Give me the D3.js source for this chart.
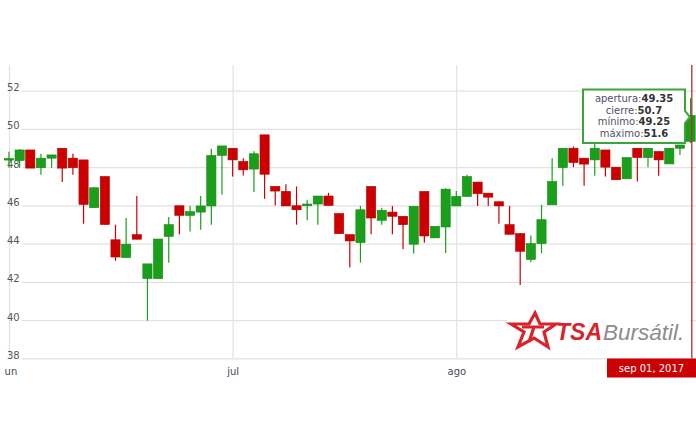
<!DOCTYPE html>
<html><head><meta charset="utf-8">
<script src="https://cdn.jsdelivr.net/npm/d3@7/dist/d3.min.js"></script>
<style>
html,body{margin:0;padding:0;background:#fff;}
svg{display:block;font-family:"DejaVu Sans",Verdana,sans-serif;}
</style></head>
<body><svg id="c" width="696" height="447"></svg>
<script>
// ---- data (one candle per trading day, index 0 = first day of June 2017) ----
const openV  = [48.38,48.35,48.9,47.97,48.47,48.99,48.47,48.38,45.88,47.51,44.2,43.27,44.47,42.17,42.17,44.38,45.98,45.48,45.65,45.97,48.61,48.99,48.3,47.9,49.69,46.99,46.73,45.98,45.98,46.07,46.49,45.57,44.47,44.05,46.99,45.22,45.65,45.43,43.97,46.73,44.3,44.87,45.97,46.47,47.22,46.64,46.19,44.99,44.52,43.17,44.0,46.03,47.98,48.99,48.47,48.38,48.9,48.0,47.39,48.99,48.5,48.82,48.17,48.99,49.35];
const closeV = [48.45,48.9,47.95,48.47,48.64,47.95,47.97,46.05,46.92,45.0,43.3,43.97,44.23,42.94,44.24,44.99,45.48,45.67,45.97,48.61,49.11,48.38,47.86,48.7,47.63,46.75,45.97,45.77,46.07,46.49,46.0,44.52,44.14,45.77,45.34,45.74,45.43,44.99,45.95,44.4,44.9,46.85,46.47,47.51,46.61,46.43,45.97,44.49,43.6,44.0,45.25,47.25,48.99,48.24,48.16,48.99,48.0,47.34,48.5,48.5,48.99,48.38,48.99,49.16,50.7];
const highV  = [48.8,48.95,48.9,48.7,48.64,48.99,48.7,48.38,46.95,47.51,44.99,45.34,46.49,42.94,44.24,45.39,45.98,45.97,46.49,48.96,49.11,48.99,48.47,48.83,49.69,46.99,47.1,46.99,46.3,46.49,46.66,45.57,44.47,45.97,46.99,45.88,45.97,45.43,45.95,46.73,44.9,46.9,46.75,47.6,47.22,46.64,46.19,45.97,44.56,44.43,46.03,48.47,48.99,49.08,48.47,49.34,48.9,48.0,48.5,48.99,48.99,48.82,48.99,49.16,51.6];
const lowV   = [47.97,47.97,47.95,47.6,47.97,47.23,47.6,45.04,45.88,45.0,43.1,43.27,44.23,39.97,42.17,43.0,44.49,44.64,44.73,44.99,46.56,47.51,47.57,46.7,46.35,46.0,45.97,44.99,45.22,44.99,46.0,44.52,42.75,43.0,44.49,44.99,44.49,43.7,43.48,44.05,44.3,43.51,45.97,46.47,45.97,45.97,45.04,44.49,41.83,43.03,43.5,46.03,47.03,48.0,47.03,47.55,47.51,47.34,47.39,47.25,48.0,47.55,48.17,48.64,49.25];
const yTicks = [38,40,42,44,46,48,50,52];
const monthLabels = ["jun","jul","ago"];
const monthIndex  = [0,21,42];
const selIndex = 64;
const selDate = "sep 01, 2017";
const tipLabels = ["apertura:","cierre:","mínimo:","máximo:"];
const tipValues = ["49.35","50.7","49.25","51.6"];

const svg = d3.select("#c");
const RED = "#cc0000", GREEN = "#1a9f1a";
const plotTop = 65, plotBottom = 358.3;

const x = d3.scaleLinear().domain([0, openV.length - 1]).range([9, 690.6]);
const y = d3.scaleLinear().domain([38, 52]).range([plotBottom, 90.7]);

// horizontal gridlines
const gy = svg.append("g").attr("transform","translate(22,0)")
  .call(d3.axisLeft(y).tickValues(yTicks).tickSize(-(696-22)).tickFormat(""));
gy.select(".domain").remove();
gy.selectAll("line").attr("stroke","#e2e2e2").attr("stroke-width",1.2);

// vertical month gridlines
const gx = svg.append("g").attr("transform",`translate(0,${plotBottom})`)
  .call(d3.axisBottom(x).tickValues(monthIndex).tickSize(-(plotBottom-plotTop)).tickFormat(""));
gx.select(".domain").remove();
gx.selectAll("line").attr("stroke","#e2e2e2").attr("stroke-width",1.2);

// x labels (clipped at left like the reference)
svg.append("clipPath").attr("id","xclip").append("rect")
  .attr("x",4.5).attr("y",0).attr("width",700).attr("height",447);
const xl = svg.append("g").attr("clip-path","url(#xclip)")
  .append("g").attr("transform",`translate(0,${plotBottom})`)
  .call(d3.axisBottom(x).tickValues(monthIndex).tickSize(0).tickPadding(10)
        .tickFormat(d=>monthLabels[monthIndex.indexOf(d)]));
xl.select(".domain").remove();
xl.selectAll("text").attr("font-size",10).attr("fill","#4a4a5a")
  .attr("font-family","DejaVu Sans, Verdana, sans-serif");

// y labels
const yl = svg.append("g").attr("transform","translate(7,0)")
  .call(d3.axisRight(y).tickValues(yTicks).tickSize(0).tickPadding(0));
yl.select(".domain").remove();
yl.selectAll("text").attr("font-size",10).attr("fill","#555").attr("dy","0")
  .attr("text-anchor","start").attr("font-family","DejaVu Sans, Verdana, sans-serif");

// logo background + logo
const lg = svg.append("g");
lg.append("rect").attr("x",507).attr("y",300).attr("width",183).attr("height",53).attr("fill","#fff");
const ic = lg.append("g").attr("transform","translate(510,311)")
  .attr("fill","none").attr("stroke","#d9232a").attr("stroke-width",3.2).attr("stroke-linejoin","miter");
ic.append("path").attr("d","M25,2 L30,13 L46,13 L34,21 L38,36 L24,27 L8,36 L14,21 L1,13 L19,13 Z");
ic.append("path").attr("d","M12,16 L34,16 M24,16 L19,31");
lg.append("text").attr("x",556).attr("y",340).attr("font-family","Liberation Sans, Arial, sans-serif")
  .attr("font-size",23).attr("font-weight","bold").attr("font-style","italic")
  .attr("fill","#d9232a").text("TSA");
lg.append("text").attr("x",603).attr("y",340).attr("font-family","Liberation Sans, Arial, sans-serif")
  .attr("font-size",22.5).attr("font-style","italic")
  .attr("fill","#8c8c8c").text("Bursátil.");

// candles
const idx = d3.range(openV.length);
const cg = svg.append("g");
cg.selectAll("line.w").data(idx).join("line").attr("class","w")
  .attr("x1",i=>x(i)).attr("x2",i=>x(i))
  .attr("y1",i=>y(highV[i])).attr("y2",i=>y(lowV[i]))
  .attr("stroke",i=>closeV[i]>=openV[i]?GREEN:RED).attr("stroke-width",1.2);
cg.selectAll("rect.b").data(idx).join("rect").attr("class","b")
  .attr("x",i=>x(i)-4.6).attr("width",9.2)
  .attr("y",i=>y(Math.max(openV[i],closeV[i])))
  .attr("height",i=>Math.max(1.5, Math.abs(y(openV[i])-y(closeV[i]))))
  .attr("fill",i=>closeV[i]>=openV[i]?GREEN:RED)
  .attr("stroke",i=>closeV[i]>=openV[i]?"#128a12":"#b30000").attr("stroke-width",0.6);

// crosshair
svg.append("line").attr("x1",x(selIndex)+1.2).attr("x2",x(selIndex)+1.2)
  .attr("y1",plotTop).attr("y2",plotBottom).attr("stroke","#b03030").attr("stroke-width",1.3);

// date flag
svg.append("rect").attr("x",607).attr("y",358.5).attr("width",90).attr("height",19).attr("fill","#cc0000");
svg.append("text").attr("x",651.5).attr("y",371.5).attr("text-anchor","middle")
  .attr("font-size",10).attr("fill","#fff").text(selDate);

// tooltip
const tg = svg.append("g");
tg.append("path").attr("d","M583,89.5 H685 V111 L690,117 L685,123 V143 H583 Z")
  .attr("fill","#fff").attr("fill-opacity",0.95).attr("stroke","#3aa63a").attr("stroke-width",2);
tipLabels.forEach((l,k)=>{
  const t = tg.append("text").attr("x",634).attr("y",102+k*11.5).attr("text-anchor","middle").attr("font-size",10);
  t.append("tspan").attr("fill","#55506a").text(l);
  t.append("tspan").attr("fill","#333").attr("font-weight","bold").text(tipValues[k]);
});
</script></body></html>
